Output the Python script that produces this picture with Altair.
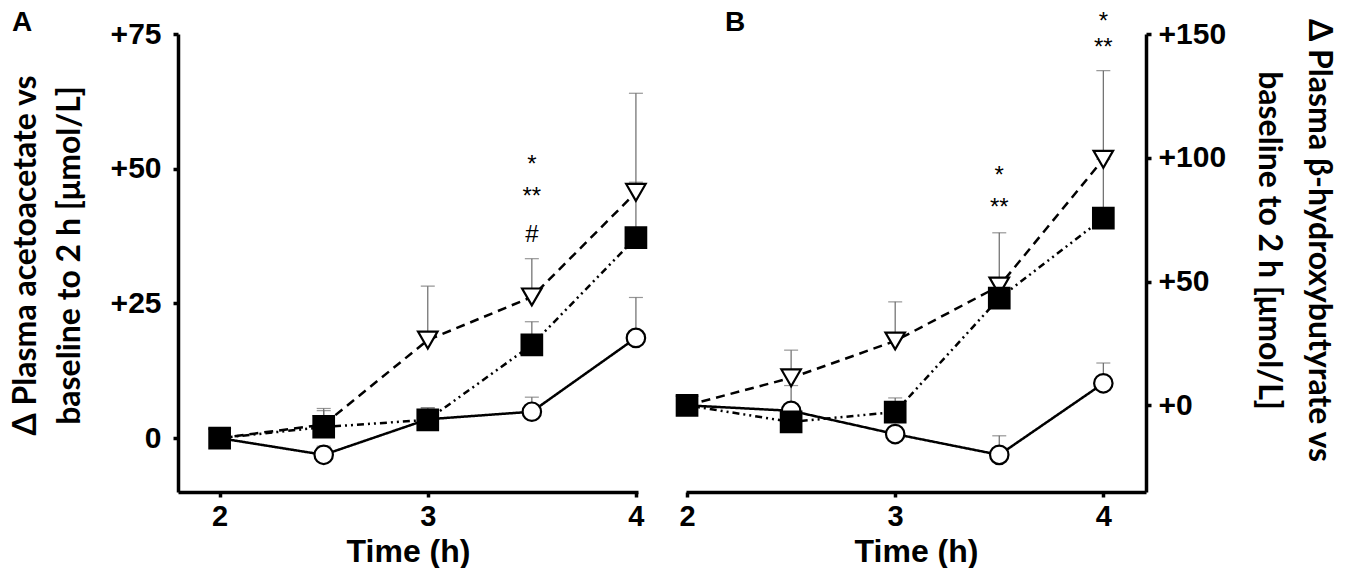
import altair as alt
import pandas as pd

times = [2.0, 2.5, 3.0, 3.5, 4.0]
series = ["circle", "triangle", "square"]

# Panel A: delta plasma acetoacetate (umol/L), mean and upper error bar end
a_circle = [0, -3.1, 3.5, 4.9, 18.6]
a_circle_err = [None, -1.5, 5.6, 7.6, 26.1]
a_triangle = [0, 2.5, 18.2, 26.2, 45.6]
a_triangle_err = [None, 5.5, 28.2, 33.3, 64.0]
a_square = [0, 2.05, 3.4, 17.3, 37.2]
a_square_err = [None, 5.1, 5.6, 21.6, 47.5]

# Panel B: delta plasma beta-hydroxybutyrate (umol/L)
b_circle = [0, -2.2, -11.6, -20.0, 8.9]
b_circle_err = [None, 8.0, None, -12.3, 17.1]
b_triangle = [0, 11.1, 26.0, 48.2, 99.4]
b_triangle_err = [None, 22.3, 41.8, 69.7, 135.2]
b_square = [0, -6.7, -2.7, 43.3, 75.6]
b_square_err = [None, None, 3.0, None, 99.4]

# significance marks
a_sig_time = [3.5, 3.5, 3.5]
a_sig_value = [50.6, 44.7, 37.7]
a_sig_text = ["*", "**", "#"]
b_sig_time = [3.5, 3.5, 4.0, 4.0]
b_sig_value = [92.5, 79.6, 155.0, 144.5]
b_sig_text = ["*", "**", "*", "**"]

FONT = "Liberation Sans"
TFONT = "Lato"


def build(vals, errs):
    rows = []
    for s, v_list, e_list in zip(series, vals, errs):
        for t, v, e in zip(times, v_list, e_list):
            rows.append({"time": t, "value": v, "err": e, "series": s})
    return pd.DataFrame(rows)


def panel(df, ann, xdom, ydom, yvals, orient, ytitle, lexpr, letter, letter_x,
          label_pad, title_pad, title_lh, title_y):
    xax = alt.Axis(values=[2, 3, 4], format="d", title="Time (h)", grid=False,
                   domainWidth=3.5, domainColor="black", tickWidth=3.5,
                   tickColor="black", tickSize=5, labelFont=FONT,
                   labelFontSize=29, labelFontWeight="bold", labelColor="black",
                   labelPadding=5, titleFont=FONT, titleFontSize=32,
                   titleFontWeight="bold", titleColor="black", titlePadding=5)
    yax = alt.Axis(orient=orient, values=yvals, labelExpr=lexpr, title=ytitle,
                   grid=False, domainWidth=3.5, domainColor="black",
                   tickWidth=3.5, tickColor="black", tickSize=5, labelFont=FONT,
                   labelFontSize=30, labelFontWeight="bold", labelColor="black",
                   labelPadding=label_pad,
                   titleFont=TFONT, titleFontSize=32, titleFontWeight="bold",
                   titleColor="black", titlePadding=title_pad,
                   titleLineHeight=title_lh, titleY=title_y)
    xs = alt.Scale(domain=xdom, nice=False, zero=False)
    ys = alt.Scale(domain=ydom, nice=False, zero=False)
    X = alt.X("time:Q", scale=xs, axis=xax)
    Y = alt.Y("value:Q", scale=ys, axis=yax)
    base = alt.Chart(df)
    err = base.transform_filter("isValid(datum.err)").mark_rule(
        color="#6a6a6a", strokeWidth=1.2).encode(X, Y, y2="err:Q")
    cap = base.transform_filter("isValid(datum.err)").transform_calculate(
        value="datum.err").mark_tick(orient="horizontal", color="#6a6a6a",
                                     thickness=1.2, size=14).encode(X, Y)
    line = base.mark_line(color="black", strokeWidth=2.5).encode(
        X, Y,
        strokeDash=alt.StrokeDash("series:N", scale=alt.Scale(
            domain=series, range=[[1, 0], [9, 6], [7, 4, 2, 4, 2, 4]]),
            legend=None))
    pts = base.mark_point(filled=True, stroke="black", strokeWidth=2.2,
                          opacity=1).encode(
        X, Y,
        shape=alt.Shape("series:N", scale=alt.Scale(
            domain=series, range=["circle", "triangle-down", "square"]),
            legend=None),
        fill=alt.Fill("series:N", scale=alt.Scale(
            domain=series, range=["white", "white", "black"]), legend=None),
        size=alt.Size("series:N", scale=alt.Scale(
            domain=series, range=[340, 420, 440]), legend=None))
    txt = alt.Chart(ann).mark_text(font=FONT, fontSize=24, color="black",
                                   baseline="middle", align="center").encode(
        X, Y, text="text:N")
    tag = alt.Chart(pd.DataFrame({"letter": [letter]})).mark_text(
        font=FONT, fontSize=28, fontWeight="bold", color="black",
        align="left", baseline="top").encode(
        x=alt.value(letter_x), y=alt.value(-25), text="letter:N")
    return alt.layer(err, cap, line, pts, txt, tag).properties(
        width=460, height=458)


df_a = build([a_circle, a_triangle, a_square],
             [a_circle_err, a_triangle_err, a_square_err])
df_b = build([b_circle, b_triangle, b_square],
             [b_circle_err, b_triangle_err, b_square_err])
ann_a = pd.DataFrame({"time": a_sig_time, "value": a_sig_value, "text": a_sig_text})
ann_b = pd.DataFrame({"time": b_sig_time, "value": b_sig_value, "text": b_sig_text})

pa = panel(df_a, ann_a, [1.8, 4.01], [-10, 75], [0, 25, 50, 75], "left",
           ["Δ Plasma acetoacetate vs", "baseline to 2 h [μmol/L]"],
           "datum.value > 0 ? '+' + datum.value : '' + datum.value", "A", -166,
           12, 24, 44, 221)
pb = panel(df_b, ann_b, [1.995, 4.205], [-35, 150], [0, 50, 100, 150], "right",
           ["Δ Plasma β-hydroxybutyrate vs", "baseline to 2 h [μmol/L]"],
           "'+' + datum.value", "B", 39, 7, 26, 50, 206)

chart = alt.hconcat(pa, pb, spacing=19).properties(padding=0).configure_view(
    stroke="transparent")

chart.save("out.html", embed_options={"renderer": "svg", "actions": False})
